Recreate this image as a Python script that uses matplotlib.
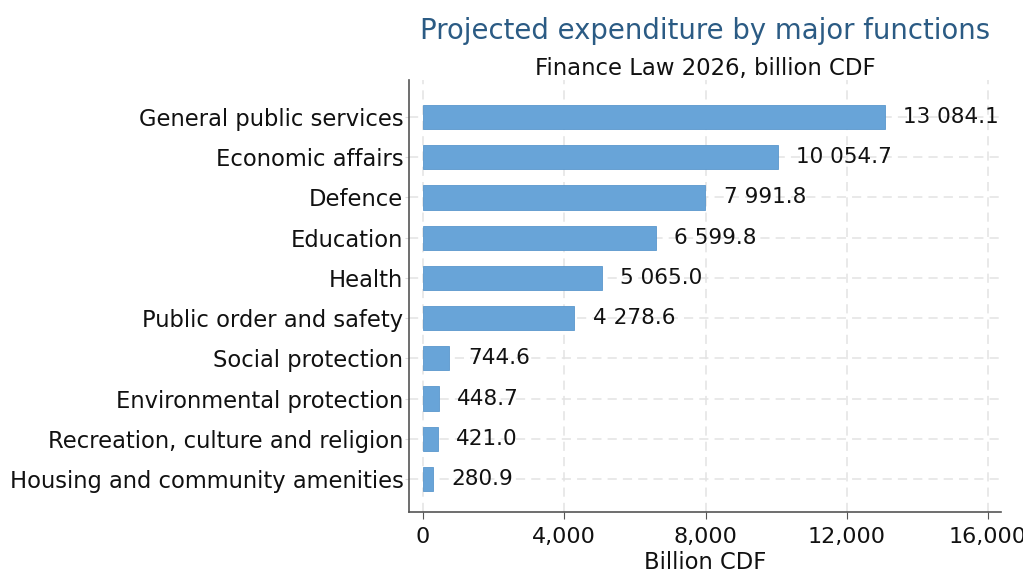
import numpy as np
import matplotlib
matplotlib.use("Agg")
import matplotlib.pyplot as plt

# Projected expenditure by major functions, Finance Law 2026
functions = [
    "General public services",
    "Economic affairs",
    "Defence",
    "Education",
    "Health",
    "Public order and safety",
    "Social protection",
    "Environmental protection",
    "Recreation, culture and religion",
    "Housing and community amenities",
]
amounts = [13084.1, 10054.7, 7991.8, 6599.8, 5065.0, 4278.6, 744.6, 448.7, 421.0, 280.9]
xticks = [0, 4000, 8000, 12000, 16000]

plt.rcParams['font.family'] = ['DejaVu Sans']

fig = plt.figure(figsize=(10.23, 5.81), dpi=100)
ax = fig.add_axes([0.3998, 0.1188, 0.5787, 0.7435])

y = np.arange(len(functions))
ax.barh(y, amounts, height=0.6, color='#68a4d8', edgecolor='#5a97cc', linewidth=0.6, zorder=3)

for yi, v in zip(y, amounts):
    label = f"{v:,.1f}".replace(",", " ")
    ax.text(v + 520, yi, label, va='center', ha='left', fontsize=15.5, color='#111111', zorder=4)

ax.set_xlim(-400, 16370)
ax.set_ylim(9.82, -0.92)
ax.set_yticks(y)
ax.set_yticklabels(functions, fontsize=16.3, color='#111111')
ax.set_xticks(xticks)
ax.set_xticklabels([f"{t:,}" for t in xticks], fontsize=16, color='#111111')
ax.set_xlabel("Billion CDF", fontsize=16.3, color='#111111', labelpad=3)

ax.grid(True, color='#e3e3e3', linestyle=(0, (6, 4)), linewidth=1.1, zorder=0)
ax.tick_params(axis='y', length=3, color='#dddddd', pad=1)
ax.tick_params(axis='x', length=5, color='#555555', pad=6)

for side in ['top', 'right']:
    ax.spines[side].set_visible(False)
for side in ['left', 'bottom']:
    ax.spines[side].set_color('#555555')
    ax.spines[side].set_linewidth(1.2)

fig.text(0.689, 0.947, "Projected expenditure by major functions", ha='center', va='center',
         fontsize=19.8, color='#2b5b84')
fig.text(0.689, 0.882, "Finance Law 2026, billion CDF", ha='center', va='center',
         fontsize=16.4, color='#111111')

fig.savefig("out.png", dpi=100)
